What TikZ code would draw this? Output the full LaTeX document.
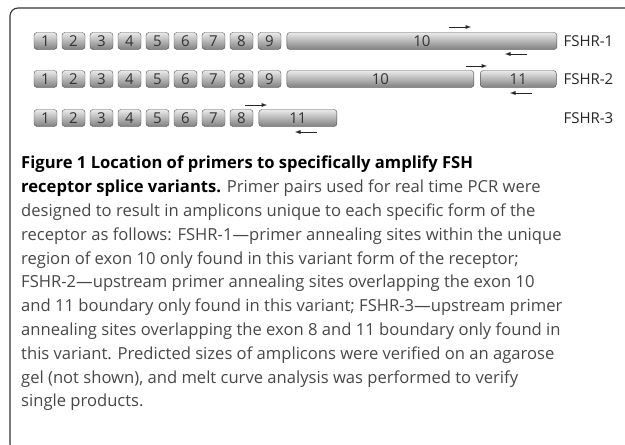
\documentclass[tikz,border=0pt]{standalone}
\usepackage{fontspec}
\setmainfont{Open Sans}
\usetikzlibrary{positioning, arrows}
\tikzstyle{exon} = [rectangle, rounded corners=3pt, minimum width=23pt, minimum height=17pt, inner sep=0pt, draw=black!70, top color=black!8, bottom color=black!50, text=black!80, font=\fontsize{15}{15}\selectfont]
\tikzstyle{variant} = [anchor=west, text=black!85, font=\fontsize{15}{15}\selectfont]
\tikzstyle{primer} = [line width=0.9pt, ->, >=latex, black!85]
\tikzstyle{outline} = [line width=1.1pt, black!80, rounded corners=8pt]

\begin{document}
\begin{tikzpicture}[x=1pt, y=-1pt, node distance=4.6pt]
            \useasboundingbox (0,0) rectangle (625,445);
            \draw [outline] (625,8) -- (10,8) -- (10,452) -- (40,452);

            \node (e11) [exon] at (45.5,41) {1};
            \node (e12) [exon, right=of e11] {2};
            \node (e13) [exon, right=of e12] {3};
            \node (e14) [exon, right=of e13] {4};
            \node (e15) [exon, right=of e14] {5};
            \node (e16) [exon, right=of e15] {6};
            \node (e17) [exon, right=of e16] {7};
            \node (e18) [exon, right=of e17] {8};
            \node (e19) [exon, right=of e18] {9};
            \node (e110) [exon, right=5.5pt of e19, minimum width=270pt] {10};
            \node (fshr1) [variant] at (560,41) {FSHR-1};

            \node (e21) [exon] at (45.5,79) {1};
            \node (e22) [exon, right=of e21] {2};
            \node (e23) [exon, right=of e22] {3};
            \node (e24) [exon, right=of e23] {4};
            \node (e25) [exon, right=of e24] {5};
            \node (e26) [exon, right=of e25] {6};
            \node (e27) [exon, right=of e26] {7};
            \node (e28) [exon, right=of e27] {8};
            \node (e29) [exon, right=of e28] {9};
            \node (e210) [exon, right=5.5pt of e29, minimum width=187pt] {10};
            \node (e211) [exon, right=6pt of e210, minimum width=76pt] {11};
            \node (fshr2) [variant] at (560,79) {FSHR-2};

            \node (e31) [exon] at (45.5,118) {1};
            \node (e32) [exon, right=of e31] {2};
            \node (e33) [exon, right=of e32] {3};
            \node (e34) [exon, right=of e33] {4};
            \node (e35) [exon, right=of e34] {5};
            \node (e36) [exon, right=of e35] {6};
            \node (e37) [exon, right=of e36] {7};
            \node (e38) [exon, right=of e37] {8};
            \node (e311) [exon, right=5.5pt of e38, minimum width=78pt] {11};
            \node (fshr3) [variant] at (560,118) {FSHR-3};

            \coordinate (p1f) at (449,27);  \coordinate (p1fe) at (471,27);
            \coordinate (p1r) at (527,54);  \coordinate (p1re) at (505,54);
            \coordinate (p2f) at (466,66);  \coordinate (p2fe) at (487,66);
            \coordinate (p2r) at (532,93);  \coordinate (p2re) at (510,93);
            \coordinate (p3f) at (245,105); \coordinate (p3fe) at (267,105);
            \coordinate (p3r) at (317,132); \coordinate (p3re) at (295,132);

            \draw [primer] (p1f) -- (p1fe);
            \draw [primer] (p1r) -- (p1re);
            \draw [primer] (p2f) -- (p2fe);
            \draw [primer] (p2r) -- (p2re);
            \draw [primer] (p3f) -- (p3fe);
            \draw [primer] (p3r) -- (p3re);

            \node (caption) [anchor=north west, align=left, inner sep=0pt, text=black!72, font=\fontsize{16.6}{23.8}\selectfont] at (21,156)
                {{\color{black}\bfseries Figure 1 Location of primers to specifically amplify FSH}\\
                 {\color{black}\bfseries receptor splice variants.} Primer pairs used for real time PCR were\\
                 designed to result in amplicons unique to each specific form of the\\
                 receptor as follows: FSHR-1---primer annealing sites within the unique\\
                 region of exon 10 only found in this variant form of the receptor;\\
                 FSHR-2---upstream primer annealing sites overlapping the exon 10\\
                 and 11 boundary only found in this variant; FSHR-3---upstream primer\\
                 annealing sites overlapping the exon 8 and 11 boundary only found in\\
                 this variant. Predicted sizes of amplicons were verified on an agarose\\
                 gel (not shown), and melt curve analysis was performed to verify\\
                 single products.};
        \end{tikzpicture}
\end{document}
